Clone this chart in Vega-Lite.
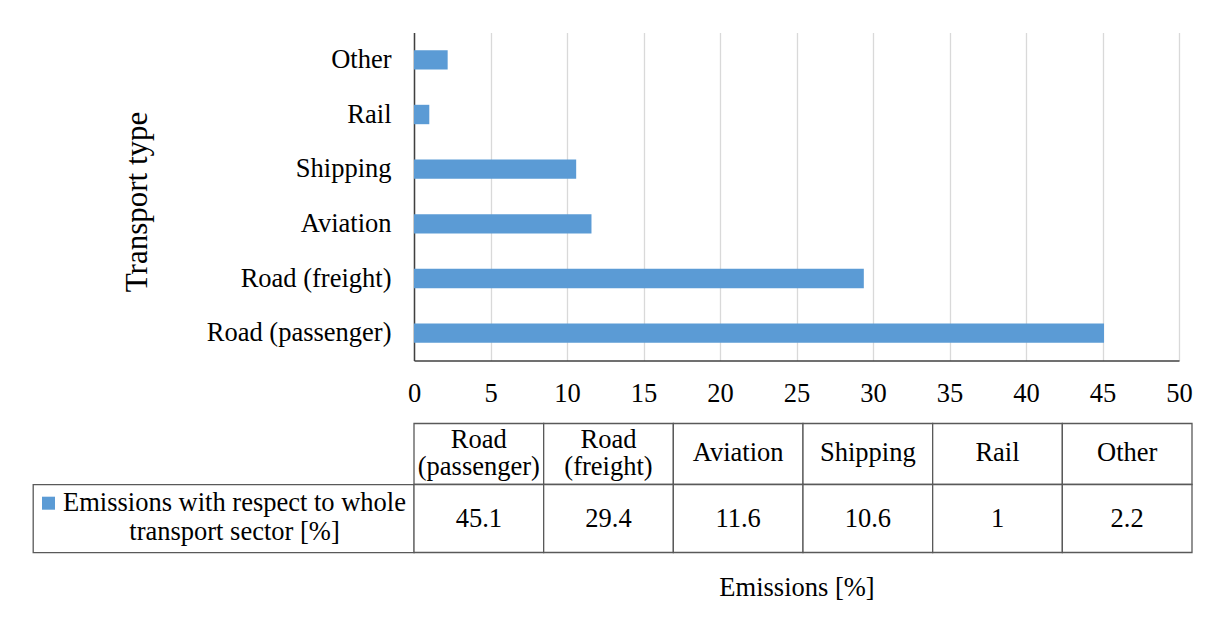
{
  "$schema": "https://vega.github.io/schema/vega-lite/v6.json",
  "padding": {"left": 32, "top": 32.5, "right": 0, "bottom": 0},
  "background": "white",
  "config": {
    "font": "Liberation Serif, Times New Roman, Times, DejaVu Serif, serif",
    "text": {"font": "Liberation Serif, Times New Roman, Times, DejaVu Serif, serif"},
    "view": {"stroke": null},
    "axis": {
      "titleFontWeight": "normal",
      "titleColor": "#000000",
      "labelColor": "#000000",
      "titleFont": "Liberation Serif, Times New Roman, Times, DejaVu Serif, serif",
      "labelFont": "Liberation Serif, Times New Roman, Times, DejaVu Serif, serif"
    }
  },
  "datasets": {
    "emissions": [
      {"type": "Road (passenger)", "value": 45.1},
      {"type": "Road (freight)", "value": 29.4},
      {"type": "Aviation", "value": 11.6},
      {"type": "Shipping", "value": 10.6},
      {"type": "Rail", "value": 1},
      {"type": "Other", "value": 2.2}
    ]
  },
  "columns": 2,
  "bounds": "flush",
  "align": "each",
  "spacing": 0,
  "concat": [
    {
      "width": 381,
      "height": 391,
      "data": {"values": []},
      "mark": "point",
      "encoding": {}
    },
    {
      "width": 765,
      "height": 328,
      "data": {"name": "emissions"},
      "mark": {"type": "bar", "color": "#5b9bd5"},
      "encoding": {
        "y": {
          "field": "type",
          "type": "nominal",
          "sort": ["Other", "Rail", "Shipping", "Aviation", "Road (freight)", "Road (passenger)"],
          "scale": {"paddingInner": 0.645, "paddingOuter": 0.3225},
          "axis": {
            "title": "Transport type",
            "titleFontSize": 31,
            "titlePadding": 61,
            "titleY": 169,
            "labelFontSize": 26.5,
            "labelPadding": 23,
            "labelLimit": 400,
            "ticks": false,
            "tickSize": 0,
            "grid": false,
            "domainColor": "#404040",
            "domainWidth": 1.5
          }
        },
        "x": {
          "field": "value",
          "type": "quantitative",
          "scale": {"domain": [0, 50], "nice": false},
          "axis": {
            "title": "Emissions [%]",
            "titleFontSize": 26.5,
            "titlePadding": 167,
            "values": [0, 5, 10, 15, 20, 25, 30, 35, 40, 45, 50],
            "labelFontSize": 26.5,
            "labelPadding": 20,
            "labelFlush": false,
            "ticks": false,
            "tickSize": 0,
            "grid": true,
            "gridColor": "#d9d9d9",
            "gridWidth": 1.3,
            "domainColor": "#404040",
            "domainWidth": 1.5
          }
        }
      }
    },
    {
      "width": 381,
      "height": 61,
      "data": {"values": []},
      "mark": "point",
      "encoding": {}
    },
    {
      "width": 778,
      "height": 61,
      "data": {"name": "emissions"},
      "encoding": {
        "x": {
          "field": "type",
          "type": "nominal",
          "sort": null,
          "scale": {"paddingInner": 0, "paddingOuter": 0},
          "axis": null
        }
      },
      "layer": [
        {"mark": {"type": "rect", "fill": "white", "stroke": "#595959", "strokeWidth": 1.3}},
        {
          "transform": [{"filter": "indexof(datum.type, ' ') < 0"}],
          "mark": {"type": "text", "fontSize": 26.5, "color": "#000000", "baseline": "middle", "dy": -1},
          "encoding": {"text": {"field": "type"}}
        },
        {
          "transform": [{"filter": "indexof(datum.type, ' ') >= 0"}],
          "mark": {"type": "text", "fontSize": 26.5, "lineBreak": " ", "lineHeight": 27, "color": "#000000", "baseline": "middle", "dy": -14.4},
          "encoding": {"text": {"field": "type"}}
        }
      ]
    },
    {
      "width": 381,
      "height": 68,
      "view": {"stroke": "#595959", "strokeWidth": 1.3},
      "data": {"values": [{"series": "Emissions with respect to whole transport sector [%]"}]},
      "layer": [
        {
          "mark": {"type": "point", "shape": "square", "filled": true, "color": "#5b9bd5", "opacity": 1, "size": 169, "xOffset": -175, "yOffset": -15.3},
          "encoding": {}
        },
        {
          "mark": {"type": "text", "text": ["Emissions with respect to whole", "transport sector [%]"], "fontSize": 26.5, "lineHeight": 28.5, "dx": 11, "dy": -15.5, "align": "center", "baseline": "middle", "color": "#000000"},
          "encoding": {}
        }
      ]
    },
    {
      "width": 778,
      "height": 68,
      "data": {"name": "emissions"},
      "encoding": {
        "x": {
          "field": "type",
          "type": "nominal",
          "sort": null,
          "scale": {"paddingInner": 0, "paddingOuter": 0},
          "axis": null
        }
      },
      "layer": [
        {"mark": {"type": "rect", "fill": "white", "stroke": "#595959", "strokeWidth": 1.3}},
        {
          "mark": {"type": "text", "fontSize": 26.5, "color": "#000000", "baseline": "middle"},
          "encoding": {"text": {"field": "value", "type": "quantitative"}}
        }
      ]
    }
  ]
}
